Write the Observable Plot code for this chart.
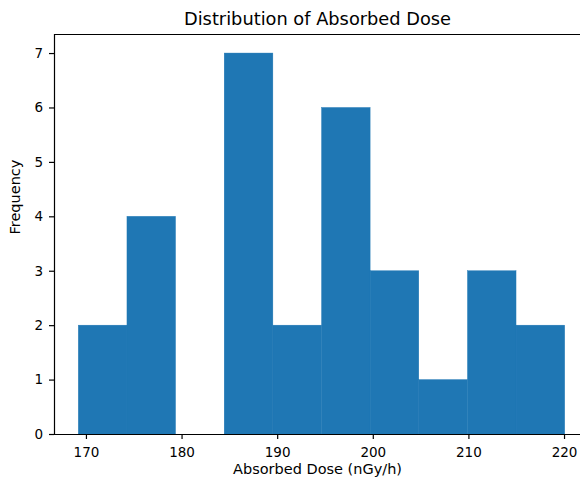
<!DOCTYPE html>
<html>
<head>
<meta charset="utf-8">
<script src="https://cdn.jsdelivr.net/npm/d3@7"></script>
<script src="https://cdn.jsdelivr.net/npm/@observablehq/plot@0.6"></script>
<style>
  html, body { margin: 0; padding: 0; background: white; overflow: hidden; }
  #chart svg { display: block; overflow: hidden; }
</style>
</head>
<body>
<div id="chart"></div>
<script>
// Histogram data
const binEdges = [169.2, 174.29, 179.37, 184.46, 189.55, 194.64, 199.72, 204.81, 209.9, 214.98, 220.07];
const counts = [2, 4, 0, 7, 2, 6, 3, 1, 3, 2];
const xTicks = [170, 180, 190, 200, 210, 220];
const yTicks = [0, 1, 2, 3, 4, 5, 6, 7];
const titleText = "Distribution of Absorbed Dose";
const xLabel = "Absorbed Dose (nGy/h)";
const yLabel = "Frequency";
const xDomain = [166.66, 221.67];
const yDomain = [0, 7.35];

const bars = counts
  .map((c, i) => ({x1: binEdges[i], x2: binEdges[i + 1], count: c}))
  .filter(d => d.count > 0);

const FONT = "DejaVu Sans";
const INK = "#000";
const BAR = "#1f77b4";

const chart = Plot.plot({
  width: 580,
  height: 487,
  marginLeft: 54,
  marginRight: 0,
  marginTop: 34,
  marginBottom: 53,
  style: {fontFamily: FONT, background: "white", overflow: "hidden"},
  x: {domain: xDomain},
  y: {domain: yDomain},
  marks: [
    Plot.rectY(bars, {x1: "x1", x2: "x2", y: "count", fill: BAR, stroke: BAR, strokeWidth: 0.4}),
    // spines
    Plot.ruleY([yDomain[0]], {stroke: INK, strokeWidth: 1.2}),
    Plot.ruleY([yDomain[1]], {stroke: INK, strokeWidth: 1.2}),
    Plot.ruleX([xDomain[0]], {stroke: INK, strokeWidth: 1.2}),
    Plot.axisX({ticks: xTicks, tickSize: 5, tickPadding: 8, fontSize: 13.5, stroke: INK, strokeWidth: 1.2, fill: INK, label: null, tickFormat: d => String(d)}),
    Plot.axisY({ticks: yTicks, tickSize: 5, tickPadding: 6.5, fontSize: 13.5, stroke: INK, strokeWidth: 1.2, fill: INK, label: null, tickFormat: d => String(d)}),
    Plot.text([titleText], {frameAnchor: "top", lineAnchor: "bottom", dy: -9.5, fontSize: 17.8, fill: INK}),
    Plot.text([xLabel], {frameAnchor: "bottom", lineAnchor: "middle", dy: 35, fontSize: 14.5, fill: INK}),
    Plot.text([yLabel], {frameAnchor: "left", lineAnchor: "middle", rotate: -90, dx: -39, fontSize: 14.5, fill: INK})
  ]
});
document.getElementById("chart").appendChild(chart);
</script>
</body>
</html>
